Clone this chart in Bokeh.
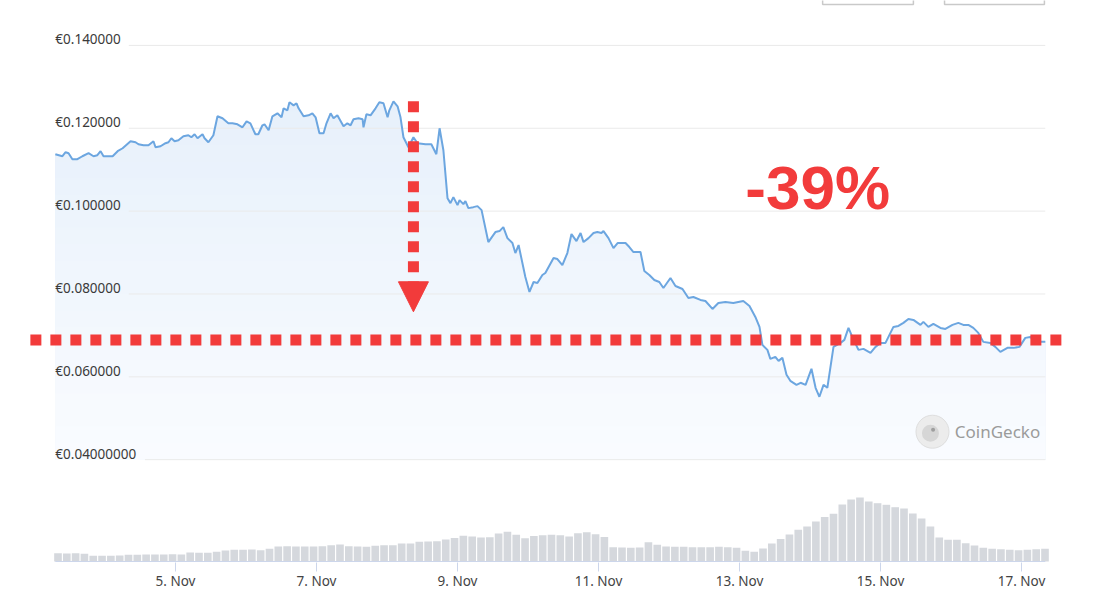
import numpy as np
from bokeh.plotting import figure
from bokeh.models import Range1d, FixedTicker, Arrow, NormalHead
from bokeh.core.properties import value
from bokeh.embed import file_html
from bokeh.resources import INLINE

# ---------------- data (time = hours since 3 Nov 00:00) ----------------
HOURS = [
    7.1, 9.5, 10.6, 11.6, 12.9, 14.6, 16.3, 18.4, 20.1, 21.4,
    22.5, 23.5, 26.6, 28.3, 30.0, 32.7, 34.4, 35.4, 37.1, 38.8,
    40.5, 41.2, 42.9, 44.6, 45.6, 46.6, 47.7, 49.0, 50.7, 52.4,
    53.4, 54.5, 55.5, 57.2, 57.9, 59.2, 60.9, 62.3, 64.0, 66.0,
    67.4, 69.1, 70.8, 72.2, 73.5, 75.2, 76.2, 77.6, 78.3, 79.7,
    81.0, 82.7, 84.1, 84.8, 86.1, 86.8, 88.2, 89.2, 89.9, 91.6,
    93.3, 94.6, 95.7, 97.0, 98.4, 99.4, 100.8, 101.8, 103.1, 105.2,
    106.5, 107.6, 108.6, 110.3, 111.7, 112.0, 113.0, 114.4, 116.1, 117.4,
    118.8, 120.2, 120.8, 122.2, 123.6, 124.6, 125.6, 127.3, 129.0, 130.4,
    133.1, 135.1, 136.8, 137.9, 139.2, 140.6, 141.6, 142.6, 144.0, 144.7,
    146.0, 146.7, 147.7, 149.4, 150.8, 152.2, 154.5, 156.9, 158.3, 159.6,
    161.0, 162.7, 163.7, 164.8, 167.1, 168.5, 169.9, 171.2, 172.9, 173.9,
    176.7, 178.0, 179.7, 181.4, 182.8, 184.5, 185.9, 186.9, 188.6, 190.3,
    191.6, 193.0, 193.7, 195.4, 197.1, 198.5, 201.2, 202.5, 203.9, 206.3,
    207.6, 209.3, 211.0, 212.7, 214.1, 216.5, 218.2, 220.6, 222.6, 224.3,
    226.7, 228.4, 230.8, 232.8, 235.2, 237.9, 241.3, 243.4, 245.4, 246.8,
    247.8, 249.5, 250.5, 252.2, 253.3, 254.6, 256.0, 257.3, 259.4, 260.8,
    262.5, 264.5, 265.9, 267.2, 268.6, 269.9, 272.0, 274.4, 275.7, 277.1,
    278.4, 280.5, 282.2, 284.6, 286.3, 288.0, 289.7, 292.4, 294.1, 295.8,
    297.5, 299.2, 301.6, 302.6, 304.3, 306.0, 308.4, 310.1, 312.5, 314.5,
    316.2, 317.9, 319.6, 321.3, 323.0, 325.4, 327.1, 328.8, 331.2, 333.3,
    335.3, 337.3, 339.0, 340.7, 342.4, 344.1,
]

PRICE = [
    0.11374, 0.11325, 0.11422, 0.11398, 0.11253, 0.11253, 0.11325, 0.11398, 0.11325, 0.11349,
    0.11446, 0.11325, 0.11325, 0.11446, 0.11518, 0.11687, 0.11663, 0.11615, 0.11590, 0.11590,
    0.11687, 0.11542, 0.11566, 0.11639, 0.11663, 0.11759, 0.11687, 0.11711, 0.11807, 0.11831,
    0.11783, 0.11855, 0.11759, 0.11855, 0.11759, 0.11663, 0.11831, 0.12289, 0.12241, 0.12120,
    0.12120, 0.12096, 0.12024, 0.12168, 0.12120, 0.11855, 0.11855, 0.12072, 0.12096, 0.11952,
    0.12289, 0.12361, 0.12265, 0.12482, 0.12434, 0.12627, 0.12554, 0.12603, 0.12482, 0.12289,
    0.12313, 0.12361, 0.12265, 0.11880, 0.11880, 0.12120, 0.12361, 0.12241, 0.12313, 0.12048,
    0.12120, 0.12072, 0.12217, 0.12241, 0.12217, 0.12024, 0.12337, 0.12313, 0.12482, 0.12627,
    0.12603, 0.12265, 0.12434, 0.12651, 0.12530, 0.12265, 0.11783, 0.11542, 0.11783, 0.11639,
    0.11615, 0.11615, 0.11374, 0.12000, 0.11470, 0.10313, 0.10193, 0.10338, 0.10145, 0.10265,
    0.10169, 0.10241, 0.10072, 0.10096, 0.10121, 0.10024, 0.09253, 0.09494, 0.09518, 0.09614,
    0.09349, 0.09229, 0.08988, 0.09181, 0.08410, 0.08048, 0.08289, 0.08265, 0.08458, 0.08506,
    0.08867, 0.08843, 0.08699, 0.08988, 0.09446, 0.09277, 0.09470, 0.09253, 0.09349, 0.09470,
    0.09494, 0.09470, 0.09518, 0.09349, 0.09108, 0.09229, 0.09229, 0.09133, 0.09012, 0.09012,
    0.08554, 0.08458, 0.08337, 0.08289, 0.08145, 0.08385, 0.08193, 0.08121, 0.07904, 0.07928,
    0.07856, 0.07831, 0.07639, 0.07783, 0.07807, 0.07783, 0.07831, 0.07711, 0.07446, 0.07205,
    0.06771, 0.06651, 0.06434, 0.06482, 0.06386, 0.06458, 0.06049, 0.05904, 0.05807, 0.05856,
    0.05807, 0.06193, 0.05735, 0.05518, 0.05807, 0.05735, 0.06723, 0.06819, 0.06892, 0.07181,
    0.06964, 0.06651, 0.06675, 0.06579, 0.06723, 0.06819, 0.06819, 0.07205, 0.07229, 0.07302,
    0.07398, 0.07374, 0.07253, 0.07326, 0.07205, 0.07277, 0.07181, 0.07157, 0.07253, 0.07302,
    0.07253, 0.07253, 0.07181, 0.07060, 0.06844, 0.06819, 0.06723, 0.06603, 0.06699, 0.06699,
    0.06723, 0.06940, 0.06964, 0.06844, 0.06844, 0.06844,
]

# volume bars, one every 3 hours from 3 Nov 08:00 (relative units)
VOL_HOURS = list(range(8, 345, 3))
VOLUME = [
    8.3, 8.0, 8.3, 7.7, 5.7, 5.7, 5.7, 6.0, 6.7, 6.7,
    7.0, 7.0, 7.0, 7.3, 7.0, 9.0, 8.7, 8.7, 9.7, 11.0,
    11.7, 11.7, 12.0, 11.3, 12.7, 15.0, 15.3, 15.0, 15.0, 15.0,
    15.3, 16.3, 17.0, 15.3, 15.0, 14.7, 15.7, 16.3, 16.3, 18.0,
    18.0, 19.7, 20.0, 20.3, 22.0, 23.5, 25.7, 25.0, 24.0, 24.3,
    28.0, 29.7, 26.7, 23.3, 25.5, 26.3, 26.7, 26.3, 25.0, 28.3,
    29.3, 27.3, 24.5, 14.3, 14.0, 13.7, 14.0, 19.3, 16.7, 15.0,
    14.7, 14.7, 14.3, 14.3, 14.3, 14.7, 14.3, 13.7, 10.7, 9.7,
    13.0, 18.0, 22.5, 27.0, 31.7, 35.0, 40.0, 44.5, 47.7, 57.0,
    62.0, 64.0, 60.0, 58.3, 56.7, 54.3, 53.0, 48.0, 43.0, 35.0,
    24.0, 21.7, 21.7, 18.3, 16.0, 13.7, 12.7, 12.3, 11.7, 11.3,
    11.7, 12.3, 12.7,
]

Y_TICKS = [0.04, 0.06, 0.08, 0.10, 0.12, 0.14]
Y_TICK_LABELS = ["€0.04000000", "€0.060000", "€0.080000", "€0.100000", "€0.120000", "€0.140000"]
X_TICK_HOURS = [48, 96, 144, 192, 240, 288, 336]
X_TICK_LABELS = ["5. Nov", "7. Nov", "9. Nov", "11. Nov", "13. Nov", "15. Nov", "17. Nov"]

# annotations drawn over the chart
DROP_HOUR = 129.0          # vertical arrow position
DROP_FROM = 0.1265
DROP_TO = 0.0757
LEVEL_PRICE = 0.0689       # horizontal dotted level
LEVEL_X = (-1.4, 351.4)
DROP_TEXT = "-39%"

# ---------------- styling ----------------
RED = "#F23B3B"
LINE_BLUE = "#6CA6E0"
FILL_TOP = "#E3EEFA"
FILL_BOTTOM = "#FAFCFF"
GRID = "#EAEAEA"
VOL_GREY = "#D5D8DD"
AXIS = "#CCD6EB"
GRID_LABEL_GAP_H = [30.5, 25.0, 25.0, 25.0, 25.0, 25.0]   # gridline starts after its label


def mix(c1, c2, t):
    a = [int(c1[i:i + 2], 16) for i in (1, 3, 5)]
    b = [int(c2[i:i + 2], 16) for i in (1, 3, 5)]
    return "#" + "".join("%02x" % round(a[k] + (b[k] - a[k]) * t) for k in range(3))


p = figure(
    width=1095, height=601,
    output_backend="svg", toolbar_location=None,
    x_range=Range1d(-3.06, 352.68),
    y_range=Range1d(0.015181, 0.150843),
    y_axis_location=None,
    min_border_left=25, min_border_right=25,
    min_border_top=0, min_border_bottom=39,
    outline_line_color=None,
    background_fill_color="white", border_fill_color="white",
)
p.extra_y_ranges = {"vol": Range1d(-1, 561)}
p.xgrid.visible = False
p.ygrid.visible = False

# range buttons peeking in at the top edge
p.quad(left=[268.3, 309.8], right=[299.2, 343.8], bottom=[0.14988, 0.14988], top=[0.1530, 0.1530],
       fill_color="white", line_color="#C9C9C9", line_width=1.5)

# gradient-like area fill under the price line (painted top band first)
price = np.array(PRICE)
top_level = 0.146
levels = np.arange(0.04 + 0.004, top_level + 1e-9, 0.004)[::-1]
for hi in levels:
    t = (hi - 0.04) / (top_level - 0.04)
    p.varea(x=HOURS, y1=0.04, y2=np.minimum(price, hi),
            fill_color=mix(FILL_BOTTOM, FILL_TOP, t))

# gridlines
p.segment(x0=[HOURS[0] + g for g in GRID_LABEL_GAP_H], y0=Y_TICKS,
          x1=[HOURS[-1]] * len(Y_TICKS), y1=Y_TICKS,
          line_color=GRID, line_width=1)

# y labels drawn inside the plot
p.text(x=[HOURS[0]] * len(Y_TICKS), y=Y_TICKS, text=Y_TICK_LABELS,
       text_font=value("Noto Sans"), text_font_size="13.5px",
       text_color="#3a3a3a", text_baseline="alphabetic", y_offset=-6)

# volume
p.vbar(x=VOL_HOURS, top=VOLUME, bottom=0, width=2.6, y_range_name="vol",
       fill_color=VOL_GREY, line_color=None)
p.segment(x0=[HOURS[0]], y0=[0], x1=[HOURS[-1]], y1=[0], y_range_name="vol",
          line_color=AXIS, line_width=1)

# price line
p.line(HOURS, PRICE, line_color=LINE_BLUE, line_width=2)

# CoinGecko watermark
p.scatter(x=[305.7], y=[0.04675], size=33, marker="circle",
          fill_color="#ECECEC", line_color="#DEDEDE", line_width=1)
p.scatter(x=[305.0], y=[0.04640], size=17, marker="circle",
          fill_color="#D6D6D6", line_color=None)
p.scatter(x=[305.9], y=[0.04720], size=4, marker="circle",
          fill_color="#9E9E9E", line_color=None)
p.text(x=[313.3], y=[0.04675], text=["CoinGecko"], text_font=value("Noto Sans"),
       text_font_size="17px", text_color="#9B9B9B", text_baseline="middle")

# red annotations
p.segment(x0=[LEVEL_X[0]], y0=[LEVEL_PRICE], x1=[LEVEL_X[1]], y1=[LEVEL_PRICE],
          line_color=RED, line_width=11, line_dash="11 9", line_cap="butt")
p.add_layout(Arrow(end=NormalHead(size=30, fill_color=RED, line_color=RED),
                   x_start=DROP_HOUR, y_start=DROP_FROM,
                   x_end=DROP_HOUR, y_end=DROP_TO,
                   line_color=RED, line_width=11, line_dash="11 9"))
p.text(x=[242.0], y=[0.100], text=[DROP_TEXT], text_font=value("Liberation Sans"),
       text_font_style="bold", text_font_size="62px",
       text_color=RED, text_baseline="alphabetic", y_offset=-24)

# x axis
p.xaxis.ticker = FixedTicker(ticks=X_TICK_HOURS)
p.xaxis.major_label_overrides = {float(h): lab for h, lab in zip(X_TICK_HOURS, X_TICK_LABELS)}
p.xaxis.axis_line_color = None
p.xaxis.major_tick_line_color = AXIS
p.xaxis.major_tick_out = 9
p.xaxis.major_tick_in = 0
p.xaxis.minor_tick_line_color = None
p.xaxis.major_label_standoff = 0
p.xaxis.major_label_text_font = "Noto Sans"
p.xaxis.major_label_text_font_size = "13.5px"
p.xaxis.major_label_text_color = "#444444"

open("out.html", "w").write(file_html(p, INLINE))
